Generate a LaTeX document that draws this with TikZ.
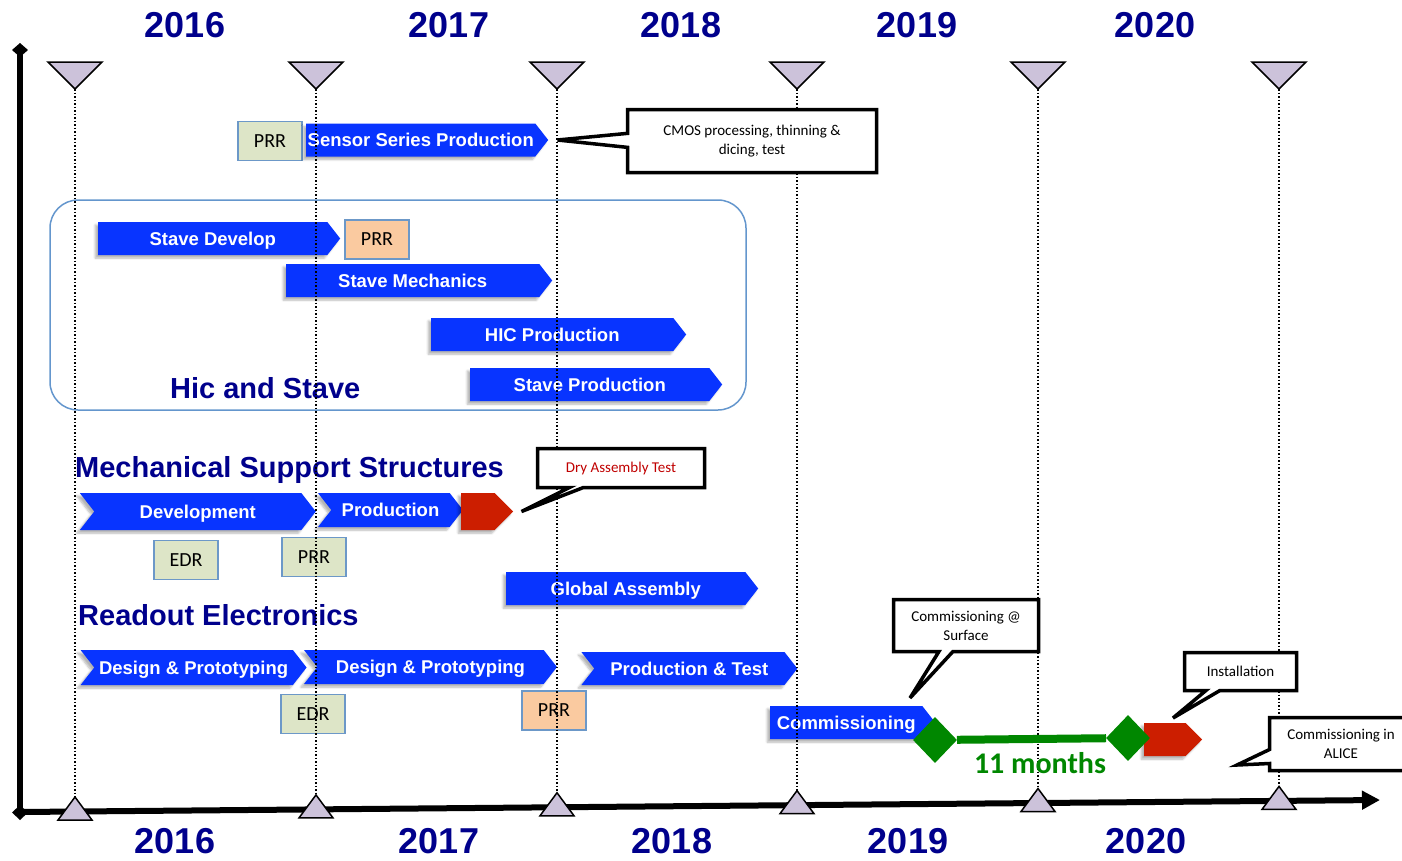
\documentclass[tikz,border=0pt]{standalone}
\usepackage{fontspec}
\setmainfont{Liberation Sans}
\newfontfamily\calib{Carlito}
\usetikzlibrary{shapes.symbols,shapes.geometric,shapes.callouts,arrows.meta,calc,shadows.blur}

\definecolor{navy}{RGB}{0,0,140}
\definecolor{barblue}{RGB}{8,52,255}
\definecolor{tipred}{RGB}{204,30,0}
\definecolor{drytext}{RGB}{192,0,0}
\definecolor{msgreen}{RGB}{0,135,0}
\definecolor{marklav}{RGB}{204,194,218}
\definecolor{revgreen}{RGB}{221,229,199}
\definecolor{revorange}{RGB}{250,202,160}
\definecolor{revedge}{RGB}{108,152,200}
\definecolor{grpedge}{RGB}{100,150,205}

\begin{document}
\begin{tikzpicture}[x=1pt,y=-1pt,
  year/.style={text=navy,font=\bfseries\fontsize{36}{36}\selectfont,inner sep=0pt},
  head/.style={text=navy,font=\bfseries\fontsize{29}{30}\selectfont,anchor=base west,inner sep=0pt},
  bar/.style={signal,signal to=east,signal pointer angle=104,fill=barblue,text=white,
    font=\bfseries\fontsize{18.5}{20}\selectfont,inner sep=0pt,minimum height=33pt,anchor=west,
    text height=13pt,text depth=0pt,
    blur shadow={shadow xshift=-3pt,shadow yshift=-3pt,shadow blur steps=6,shadow opacity=30}},
  chev/.style={bar,signal from=west},
  redtip/.style={bar,fill=tipred,signal pointer angle=90},
  review/.style={draw=revedge,line width=1.5pt,fill=revgreen,minimum width=64pt,minimum height=39pt,
    inner sep=0pt,font=\calib\fontsize{20}{22}\selectfont},
  note/.style={rectangle callout,draw,line width=3.5pt,fill=white,align=center,inner sep=0pt,
    callout pointer width=14pt,font=\calib\fontsize{15}{19}\selectfont},
  mstone/.style={diamond,fill=msgreen,inner sep=0pt,minimum width=44pt,minimum height=46pt},
  tline/.style={line width=1.3pt,dash pattern=on 1.5pt off 2pt}]

  \useasboundingbox (0,0) rectangle (1402,860);

  % years on top and at the bottom
  \node[year] (y16t) at (185,25) {2016};
  \node[year] (y17t) at (449,25) {2017};
  \node[year] (y18t) at (681,25) {2018};
  \node[year] (y19t) at (917,25) {2019};
  \node[year] (y20t) at (1155,25) {2020};
  \node[year] (y16b) at (175,841) {2016};
  \node[year] (y17b) at (439,841) {2017};
  \node[year] (y18b) at (672,841) {2018};
  \node[year] (y19b) at (908,841) {2019};
  \node[year] (y20b) at (1146,841) {2020};

  % axes
  \coordinate (origin) at (20,812);
  \coordinate (tend) at (1380,800);
  \draw[line width=6pt,{Diamond[length=15pt,width=16pt]}-{Diamond[length=14pt,width=16pt]}] (20,820) -- (20,43);
  \draw[line width=6pt,-{Triangle[length=18pt,width=18pt]}] (origin) -- (tend);

  % hic and stave
  \draw[grpedge,line width=1.5pt,rounded corners=28pt] (50,200) rectangle (746,410);
  \node[review] (prr1) at (270,141) {PRR};
  \node[bar,minimum width=242pt] (ssp) at (306,140) {Sensor Series Production};
  \node[bar,minimum width=242pt] (sdev) at (98,238.5) {Stave Develop};
  \node[review,fill=revorange] (prr2) at (377,239.5) {PRR};
  \node[bar,minimum width=266pt] (smech) at (286,280.5) {Stave Mechanics};
  \node[bar,minimum width=255pt] (hic) at (431,334.5) {HIC Production};
  \node[bar,minimum width=252pt] (sprod) at (470,384.5) {Stave Production};
  \node[head] (hicstave) at (170,398) {Hic and Stave};

  % mechanics
  \node[head] (mss) at (75,477) {Mechanical Support Structures};
  \node[chev,minimum width=236pt,minimum height=37pt] (mdev) at (94,511.5) {Development};
  \node[chev,minimum width=145pt,minimum height=34pt] (mprod) at (331,510) {Production};
  \node[redtip,minimum width=52pt,minimum height=37pt] (mtip) at (461,511.5) {};
  \node[review] (edr1) at (186,560) {EDR};
  \node[review] (prr3) at (314,557) {PRR};
  \node[bar,minimum width=252pt] (glob) at (506,588.5) {Global Assembly};

  % readout
  \node[head] (roe) at (78,625) {Readout Electronics};
  \node[chev,minimum width=226pt,minimum height=35pt] (rd1) at (94,667.5) {Design \& Prototyping};
  \node[chev,minimum width=253pt,minimum height=34pt] (rd2) at (317,667) {Design \& Prototyping};
  \node[chev,minimum width=216pt] (rpt) at (594,668.5) {Production \& Test};
  \node[review] (edr2) at (313,714) {EDR};
  \node[review,fill=revorange] (prr4) at (554,710.5) {PRR};

  % commissioning and installation
  \node[bar,minimum width=165pt] (comm) at (770,722.5) {Commissioning};
  \node[redtip,minimum width=58pt] (itip) at (1144,739.5) {};

  % year ticks
  \foreach \xx [evaluate=\xx as \ay using {812-12*(\xx-20)/1360}] in {75,316,557,797,1038,1279} {
    \draw[tline] (\xx,89) -- (\xx,\ay-14);
    \filldraw[fill=marklav,line width=1.5pt] (\xx-27,62) -- (\xx+27,62) -- (\xx,89) -- cycle;
    \filldraw[fill=marklav,line width=1.5pt] (\xx-17,\ay+8.5) -- (\xx+17,\ay+8.5) -- (\xx,\ay-14.5) -- cycle;
  }

  % milestones
  \node[mstone] (ms1) at (935,740) {};
  \node[mstone] (ms2) at (1128,738) {};
  \draw[msgreen,line width=8pt] (ms1) -- (ms2);
  \node[text=msgreen,font=\calib\bfseries\fontsize{30}{30}\selectfont] (span) at (1040,763) {11 months};

  % notes
  \coordinate (surfpt) at (910,698);
  \coordinate (instpt) at (1173,718);
  \coordinate (alicept) at (1237,765);
  \node[note,minimum width=249pt,minimum height=63pt,callout absolute pointer={($(ssp.east)+(9,0)$)}] (cmosnote) at (752,141) {CMOS processing, thinning \&\\dicing, test};
  \node[note,minimum width=167pt,minimum height=39pt,text=drytext,callout absolute pointer={($(mtip.east)+(8,0)$)}] (drynote) at (621,468) {Dry Assembly Test};
  \node[note,minimum width=145pt,minimum height=52pt,callout absolute pointer={(surfpt)}] (surfnote) at (966,625.5) {Commissioning @\\Surface};
  \node[note,minimum width=112pt,minimum height=38pt,callout absolute pointer={(instpt)}] (instnote) at (1240.5,671.5) {Installation};
  \node[note,minimum width=143pt,minimum height=53pt,callout absolute pointer={(alicept)}] (alicenote) at (1341,744) {Commissioning in\\ALICE};
\end{tikzpicture}
\end{document}
